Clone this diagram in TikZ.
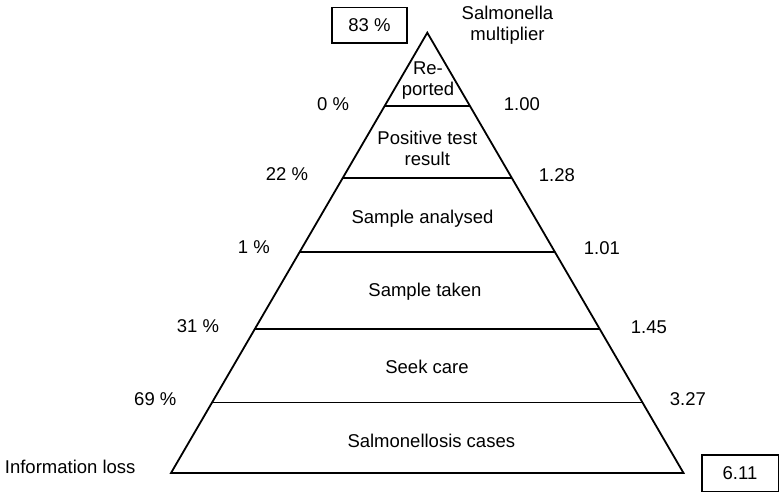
\documentclass[tikz,border=0pt]{standalone}
\usepackage{fontspec}
\setmainfont{Liberation Sans}
\usetikzlibrary{calc}
\begin{document}
\begin{tikzpicture}[x=1pt,y=-1pt,line width=1.8pt,
  lbl/.style={font=\fontsize{18.5}{21}\selectfont,inner sep=0pt},
  mlbl/.style={lbl,align=center},
  numbox/.style={draw,line width=1.6pt,inner sep=0pt,font=\fontsize{18.5}{21}\selectfont}]
\useasboundingbox (0,0) rectangle (784,498);
\coordinate (apex) at (427.3,32.7);
\coordinate (bl) at (171,473);
\coordinate (br) at (683.5,473);
\draw[line join=miter] (apex) -- (bl) -- (br) -- cycle;
\foreach \t in {0.1658,0.3291,0.4985,0.6730,0.8399}
  \draw ($(apex)!\t!(bl)$) -- ($(apex)!\t!(br)$);
% level texts
\node[mlbl] (rep) at (428,80.5) {Re-\\ported};
\node[mlbl] (pos) at (427.3,148.5) {Positive test\\result};
\node[lbl,anchor=base] (ana) at (422.5,223) {Sample analysed};
\node[lbl,anchor=base] (tak) at (425,296) {Sample taken};
\node[lbl,anchor=base] (seek) at (427,373.3) {Seek care};
\node[lbl,anchor=base] (cases) at (431.3,447) {Salmonellosis cases};
% left percentages
\node[lbl,anchor=base east] (p0) at (350,110) {0 \%};
\node[lbl,anchor=base east] (p22) at (309,180) {22 \%};
\node[lbl,anchor=base east] (p1) at (270.7,253.3) {1 \%};
\node[lbl,anchor=base east] (p31) at (220,332.7) {31 \%};
\node[lbl,anchor=base east] (p69) at (177.3,405) {69 \%};
% right multipliers
\node[lbl,anchor=base west] (m100) at (503,110) {1.00};
\node[lbl,anchor=base west] (m128) at (538,181) {1.28};
\node[lbl,anchor=base west] (m101) at (583,254) {1.01};
\node[lbl,anchor=base west] (m145) at (630,333) {1.45};
\node[lbl,anchor=base west] (m327) at (669,405) {3.27};
% titles
\node[mlbl] (mult) at (507.5,25.5) {Salmonella\\multiplier};
\node[lbl,anchor=base west] (info) at (4,473.3) {Information loss};
% boxes
\node[numbox,minimum width=75pt,minimum height=35.4pt] (tot) at (369.5,25) {83 \%};
\node[numbox,minimum width=76.6pt,minimum height=36.7pt] (fac) at (740,473.3) {6.11};
\end{tikzpicture}
\end{document}
